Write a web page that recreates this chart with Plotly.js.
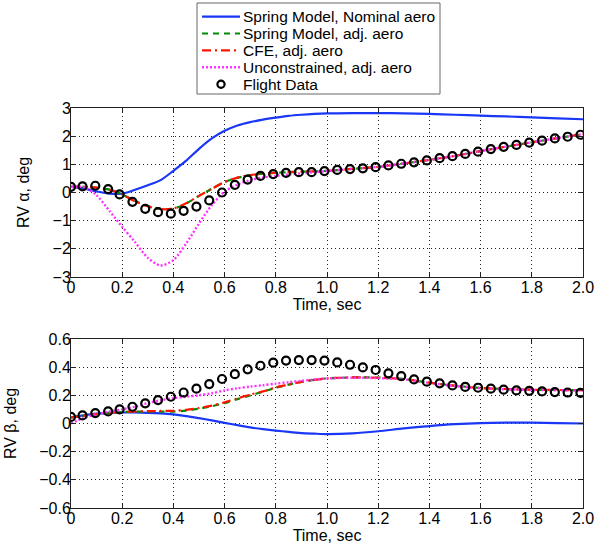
<!DOCTYPE html>
<html>
<head>
<meta charset="utf-8">
<script src="https://cdn.plot.ly/plotly-3.0.1.min.js"></script>
<style>html,body{margin:0;padding:0;background:#fff;}</style>
</head>
<body>
<div id="chart" style="width:606px;height:544px;"></div>
<script>
// Model time grid (sec)
const tModel = [0,0.05,0.1,0.15,0.2,0.25,0.3,0.35,0.4,0.45,0.5,0.55,0.6,0.65,0.7,0.75,0.8,0.85,0.9,0.95,1.0,
                1.1,1.2,1.3,1.4,1.5,1.6,1.7,1.8,1.9,2.0];
// RV alpha, deg
const alphaSpringNom = [0.2,0.14,0.04,-0.04,-0.04,0.1,0.26,0.44,0.77,1.13,1.55,1.92,2.19,2.38,2.5,2.59,2.66,2.72,2.76,2.79,2.81,
                        2.82,2.82,2.81,2.79,2.76,2.73,2.7,2.67,2.63,2.6];
const alphaSpringAdj = [0.2,0.2,0.17,0.1,-0.07,-0.3,-0.48,-0.58,-0.57,-0.39,-0.12,0.13,0.37,0.52,0.62,0.67,0.7,0.72,0.74,0.75,0.77,
                        0.84,0.91,1.03,1.16,1.3,1.47,1.63,1.78,1.93,2.07];
const alphaCFE = [0.2,0.2,0.17,0.1,-0.07,-0.31,-0.49,-0.59,-0.57,-0.38,-0.12,0.13,0.37,0.53,0.62,0.67,0.7,0.72,0.74,0.75,0.77,
                  0.84,0.91,1.03,1.16,1.3,1.47,1.63,1.78,1.93,2.07];
const alphaUncon = [0.2,0.19,-0.1,-0.65,-1.22,-1.76,-2.32,-2.59,-2.4,-1.81,-1.1,-0.45,0.03,0.28,0.44,0.53,0.59,0.64,0.68,0.72,0.76,
                    0.84,0.91,1.03,1.16,1.3,1.47,1.63,1.78,1.93,2.07];
// RV beta, deg
const betaSpringNom = [0.043,0.058,0.07,0.076,0.078,0.078,0.076,0.072,0.065,0.053,0.038,0.022,0.005,-0.012,-0.028,-0.04,-0.05,-0.06,-0.068,-0.072,-0.075,
                       -0.07,-0.055,-0.035,-0.018,-0.005,0.003,0.006,0.006,0.003,0.0];
const betaSpringAdj = [0.043,0.055,0.067,0.075,0.081,0.084,0.085,0.085,0.085,0.092,0.105,0.122,0.145,0.173,0.2,0.226,0.254,0.276,0.296,0.31,0.32,
                       0.327,0.326,0.316,0.29,0.268,0.252,0.245,0.24,0.238,0.237];
const betaCFE = [0.043,0.055,0.067,0.076,0.083,0.086,0.088,0.089,0.09,0.097,0.11,0.127,0.15,0.178,0.205,0.228,0.256,0.276,0.296,0.31,0.32,
                 0.327,0.325,0.315,0.29,0.268,0.252,0.245,0.24,0.238,0.237];
const betaUncon = [0.0,0.04,0.065,0.085,0.1,0.12,0.145,0.165,0.18,0.19,0.2,0.215,0.235,0.25,0.262,0.272,0.283,0.293,0.303,0.312,0.32,
                   0.325,0.322,0.313,0.288,0.266,0.25,0.243,0.238,0.236,0.235];
// Flight data
const tFlight = [0,0.045,0.095,0.145,0.19,0.24,0.29,0.34,0.39,0.44,0.49,0.54,0.59,0.64,0.69,0.74,0.79,0.84,0.89,0.94,
                 0.99,1.04,1.09,1.14,1.19,1.24,1.29,1.34,1.39,1.44,1.49,1.54,1.59,1.64,1.69,1.74,1.79,1.84,1.89,1.94,1.99];
const alphaFlight = [0.2,0.22,0.24,0.12,-0.07,-0.33,-0.58,-0.7,-0.75,-0.65,-0.5,-0.28,0.0,0.27,0.46,0.59,0.65,0.7,0.72,0.72,
                     0.76,0.8,0.83,0.86,0.9,0.96,1.02,1.07,1.14,1.22,1.29,1.37,1.45,1.54,1.62,1.69,1.77,1.84,1.92,1.98,2.05];
const betaFlight = [0.047,0.057,0.074,0.086,0.1,0.119,0.143,0.166,0.19,0.22,0.247,0.28,0.316,0.35,0.385,0.41,0.432,0.447,0.45,0.45,
                    0.447,0.434,0.417,0.398,0.38,0.356,0.337,0.313,0.297,0.285,0.27,0.26,0.254,0.247,0.24,0.235,0.232,0.228,0.223,0.22,0.218];
// Labels
const seriesNames = ['Spring Model, Nominal aero','Spring Model, adj. aero','CFE, adj. aero','Unconstrained, adj. aero','Flight Data'];
const xTickVals = [0,0.2,0.4,0.6,0.8,1.0,1.2,1.4,1.6,1.8,2.0];
const xTickText = ['0','0.2','0.4','0.6','0.8','1.0','1.2','1.4','1.6','1.8','2.0'];

const FONT = 'Liberation Sans, Arial, Helvetica, sans-serif';
const styles = [
  {color:'rgb(25,55,245)', dash:'solid', width:2.2},
  {color:'rgb(0,140,0)', dash:'6px,5px', width:2.2},
  {color:'rgb(255,20,0)', dash:'9px,4px,2px,4px', width:2.2},
  {color:'rgb(255,50,255)', dash:'2px,2px', width:2.4}
];
const markerStyle = {symbol:'circle-open', size:8, color:'black', line:{width:2.2, color:'black'}};

const alphaSets = [alphaSpringNom, alphaSpringAdj, alphaCFE, alphaUncon];
const betaSets = [betaSpringNom, betaSpringAdj, betaCFE, betaUncon];
const traces = [];
alphaSets.forEach((y,i)=>{
  traces.push({x:tModel, y:y, xaxis:'x', yaxis:'y', mode:'lines', name:seriesNames[i],
    line:{color:styles[i].color, dash:styles[i].dash, width:styles[i].width, shape:'spline', smoothing:0.8}});
});
traces.push({x:tFlight, y:alphaFlight, xaxis:'x', yaxis:'y', mode:'markers', name:seriesNames[4], marker:markerStyle});
betaSets.forEach((y,i)=>{
  traces.push({x:tModel, y:y, xaxis:'x2', yaxis:'y2', mode:'lines', name:seriesNames[i],
    line:{color:styles[i].color, dash:styles[i].dash, width:styles[i].width, shape:'spline', smoothing:0.8}});
});
traces.push({x:tFlight, y:betaFlight, xaxis:'x2', yaxis:'y2', mode:'markers', name:seriesNames[4], marker:markerStyle});

function xax(anchor){
  return {anchor:anchor, domain:[0,1], range:[0,2], tickvals:xTickVals, ticktext:xTickText,
    showgrid:true, gridcolor:'#222', griddash:'1px,3px', gridwidth:1, zeroline:false,
    showline:true, linecolor:'#222', linewidth:1, mirror:'ticks', ticks:'inside', ticklen:5, tickcolor:'#222',
    ticklabelstandoff:-4,
    tickfont:{family:FONT, size:16, color:'#000'}, automargin:false,
    title:{text:'Time, sec', font:{family:FONT, size:16, color:'#000'}, standoff:0}};
}
function yax(anchor, domain, range, dtick, title){
  return {anchor:anchor, domain:domain, range:range, dtick:dtick, tick0:0,
    showgrid:true, gridcolor:'#222', griddash:'1px,3px', gridwidth:1, zeroline:false,
    showline:true, linecolor:'#222', linewidth:1, mirror:'ticks', ticks:'inside', ticklen:5, tickcolor:'#222',
    ticklabelstandoff:-4,
    tickfont:{family:FONT, size:16, color:'#000'}, automargin:false,
    title:{text:title, font:{family:FONT, size:16, color:'#000'}, standoff:18}};
}

// Legend box (drawn as layout decoration in figure pixels, converted to paper units)
const M = {l:71, r:23, t:108, b:36, W:606, H:544};
const PW = M.W - M.l - M.r, PH = M.H - M.t - M.b;
const px = v => (v - M.l) / PW;
const py = v => (M.H - M.b - v) / PH;
const LEG = {left:197, right:440, top:3, bottom:94, row0:16.6, rowGap:16.9, sx0:202, sx1:240, tx:242, font:15.5};
const shapes = [{type:'rect', xref:'paper', yref:'paper', x0:px(LEG.left), x1:px(LEG.right), y0:py(LEG.bottom), y1:py(LEG.top),
  line:{color:'#666', width:1}, fillcolor:'#fff', layer:'above'}];
const annotations = [];
seriesNames.forEach((nm,i)=>{
  const ry = LEG.row0 + i*LEG.rowGap;
  if(i < styles.length){
    shapes.push({type:'line', xref:'paper', yref:'paper', x0:px(LEG.sx0), x1:px(LEG.sx1), y0:py(ry), y1:py(ry),
      line:{color:styles[i].color, dash:styles[i].dash, width:styles[i].width}, layer:'above'});
  } else {
    const cx = (LEG.sx0 + LEG.sx1)/2, r = 3.6;
    shapes.push({type:'circle', xref:'paper', yref:'paper', x0:px(cx-r), x1:px(cx+r), y0:py(ry+r), y1:py(ry-r),
      line:{color:'black', width:2.2}, layer:'above'});
  }
  annotations.push({xref:'paper', yref:'paper', x:px(LEG.tx), y:py(ry), xanchor:'left', yanchor:'middle',
    text:nm, showarrow:false, font:{family:FONT, size:LEG.font, color:'#000'}, borderpad:0});
});

const layout = {
  width:M.W, height:M.H,
  margin:{l:M.l, r:M.r, t:M.t, b:M.b},
  paper_bgcolor:'#fff', plot_bgcolor:'#fff',
  font:{family:FONT, size:16, color:'#000'},
  showlegend:false,
  xaxis: xax('y'),
  yaxis: yax('x', [0.5775,1], [-3,3], 1, 'RV α, deg'),
  xaxis2: xax('y2'),
  yaxis2: yax('x2', [0,0.4225], [-0.6,0.6], 0.2, 'RV β, deg'),
  shapes: shapes,
  annotations: annotations
};
Plotly.newPlot('chart', traces, layout, {displayModeBar:false, staticPlot:true});
</script>
</body>
</html>
